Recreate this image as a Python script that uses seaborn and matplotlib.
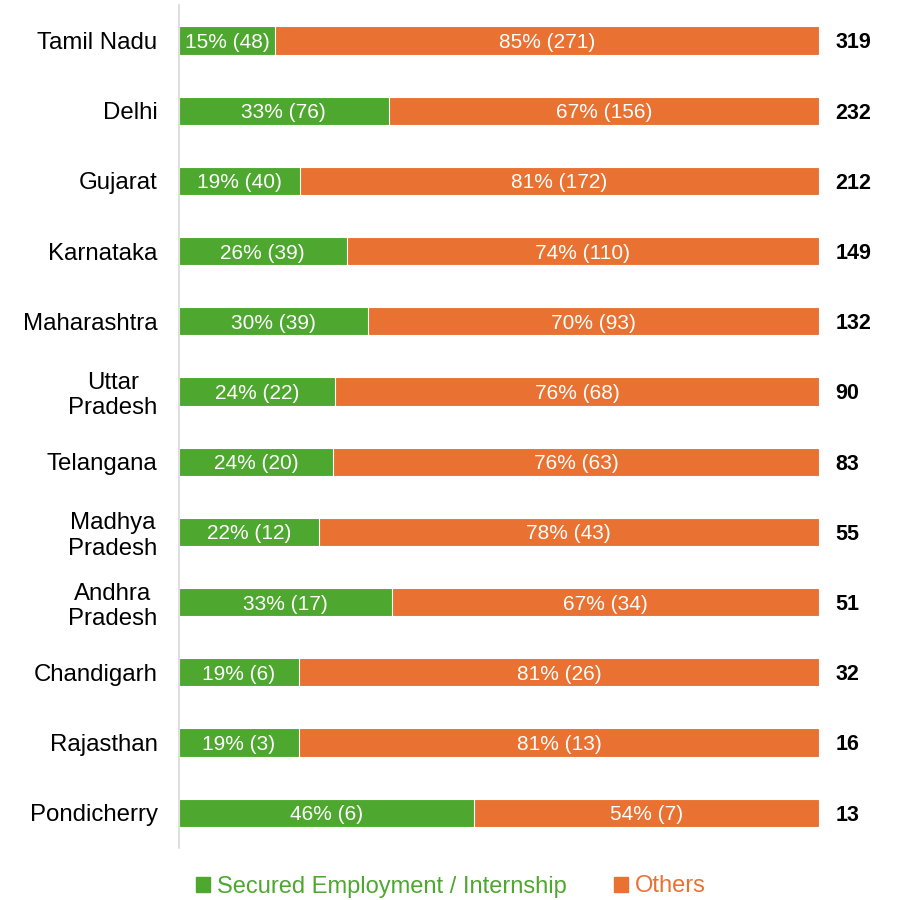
import numpy as np
import pandas as pd
import matplotlib
matplotlib.use("Agg")
import matplotlib.pyplot as plt
import seaborn as sns
from matplotlib.patches import Patch
from matplotlib.transforms import blended_transform_factory

sns.set_style("white")
plt.rcParams['font.family'] = ['Liberation Sans', 'DejaVu Sans']

# Data
states = ['Tamil Nadu', 'Delhi', 'Gujarat', 'Karnataka', 'Maharashtra', 'Uttar\nPradesh',
          'Telangana', 'Madhya\nPradesh', 'Andhra\nPradesh', 'Chandigarh', 'Rajasthan', 'Pondicherry']
secured = [48, 76, 40, 39, 39, 22, 20, 12, 17, 6, 3, 6]
others = [271, 156, 172, 110, 93, 68, 63, 43, 34, 26, 13, 7]

GREEN = '#4EA72E'
ORANGE = '#E97132'

df = pd.DataFrame({'state': states, 'secured': secured, 'others': others})
df['total'] = df['secured'] + df['others']
df['sec_share'] = df['secured'] / df['total']
df['oth_share'] = df['others'] / df['total']
df['full'] = 1.0

fig, ax = plt.subplots(figsize=(9.02, 9.0), dpi=100)
fig.subplots_adjust(left=0.1985, right=0.908, top=0.994, bottom=0.058)

# stacked 100% bars: full orange bar first, green share on top
sns.barplot(data=df, x='full', y='state', orient='h', color=ORANGE, width=0.4,
            saturation=1, edgecolor='white', linewidth=0.8, ax=ax)
sns.barplot(data=df, x='sec_share', y='state', orient='h', color=GREEN, width=0.4,
            saturation=1, edgecolor='white', linewidth=0.8, ax=ax)

# segment labels
for i, row in df.iterrows():
    ax.text(row['sec_share'] / 2, i, f"{row['sec_share']:.0%} ({row['secured']})",
            ha='center', va='center_baseline', color='white', fontsize=15)
    ax.text(row['sec_share'] + row['oth_share'] / 2, i, f"{row['oth_share']:.0%} ({row['others']})",
            ha='center', va='center_baseline', color='white', fontsize=15)

# totals to the right of each bar
trans = blended_transform_factory(ax.transAxes, ax.transData)
for i, t in enumerate(df['total']):
    ax.text(1.026, i, str(t), transform=trans, ha='left', va='center_baseline',
            fontsize=15.5, fontweight='bold', color='black')

ax.set_xlim(0, 1)
ax.set_ylim(len(states) - 0.5, -0.5)
ax.set_xlabel('')
ax.set_ylabel('')
ax.set_xticks([])
ax.tick_params(axis='y', length=0, pad=15.5, labelsize=17.3, labelcolor='black')
for lbl in ax.get_yticklabels():
    lbl.set_multialignment('center')
    lbl.set_verticalalignment('center_baseline')

sns.despine(ax=ax, top=True, right=True, bottom=True, left=False)
ax.spines['left'].set_color('#D9D9D9')
ax.spines['left'].set_linewidth(1.2)

handles = [Patch(color=GREEN, label='Secured Employment / Internship'),
           Patch(color=ORANGE, label='Others')]
leg = fig.legend(handles=handles, loc='center', bbox_to_anchor=(0.5, 0.015), ncol=2,
                 frameon=False, fontsize=17, handlelength=0.6, handleheight=0.6,
                 handletextpad=0.3, columnspacing=2.0)
for txt, col in zip(leg.get_texts(), [GREEN, ORANGE]):
    txt.set_color(col)

fig.savefig('out.png', dpi=100)
